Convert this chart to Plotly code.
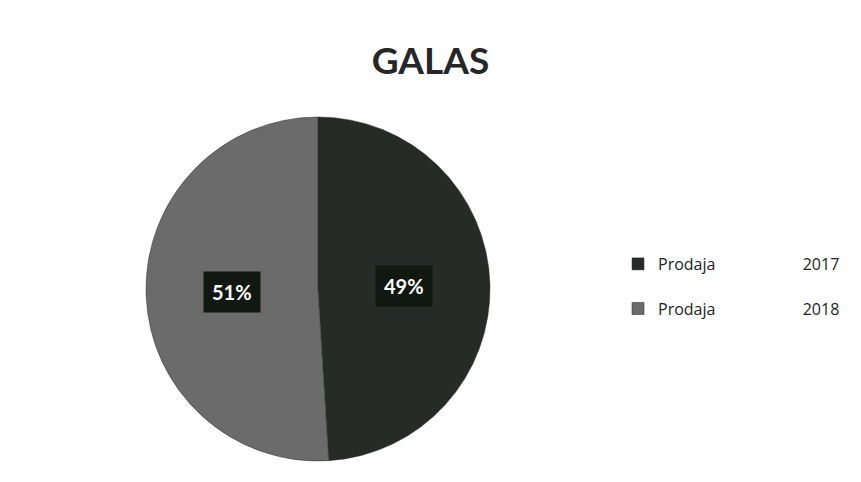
import math
import plotly.graph_objects as go

title = "GALAS"
series = ["Prodaja", "Prodaja"]
years = ["2017", "2018"]
values = [49, 51]
colors = ["#272b27", "#6b6b6b"]

GAP = "\u00a0" * 21
labels = [f"{s}{GAP}{y}" for s, y in zip(series, years)]

W, H = 861, 482
dom_x = [146 / W, 490 / W]
dom_y = [1 - 461 / H, 1 - 117 / H]

fig = go.Figure(go.Pie(
    labels=[l + "<br> " for l in labels],
    values=values,
    sort=False,
    direction="clockwise",
    rotation=0,
    marker=dict(colors=colors, line=dict(color="#2a2a2a", width=0.5)),
    textinfo="none",
    hoverinfo="label+percent",
    domain=dict(x=dom_x, y=dom_y),
))

# percent labels with dark boxes, placed at slice mid-angles
cx = (dom_x[0] + dom_x[1]) / 2 * W
cy = (1 - (dom_y[0] + dom_y[1]) / 2) * H
R = (dom_x[1] - dom_x[0]) * W / 2
total = sum(values)
cum = 0
for v in values:
    mid = (cum + v / 2) / total
    cum += v
    ang = mid * 2 * math.pi  # clockwise from top
    px = cx + 0.5 * R * math.sin(ang)
    py = cy - 0.5 * R * math.cos(ang)
    fig.add_annotation(
        x=px / W, y=1 - py / H, xref="paper", yref="paper",
        xanchor="center", yanchor="middle",
        text=f"<b>{round(100 * v / total)}%</b>", showarrow=False,
        font=dict(family="Lato", size=20, color="white"),
        bgcolor="#111711", borderpad=8,
    )

fig.update_layout(
    width=W, height=H,
    margin=dict(l=0, r=0, t=0, b=0),
    paper_bgcolor="white",
    plot_bgcolor="white",
    title=dict(text=f"<b>{title}</b>", x=0.5, xanchor="center", y=1 - 61 / H, yanchor="middle",
               font=dict(family="Lato", size=37, color="#262626")),
    showlegend=True,
    legend=dict(x=618 / W, xanchor="left", y=1 - 297 / H, yanchor="middle",
                valign="top", itemwidth=30,
                font=dict(family="Open Sans", size=16, color="#222222"),
                bgcolor="rgba(0,0,0,0)"),
)

fig.write_html("out.html", config={"displayModeBar": False},
               post_script="document.body.style.margin='0';")
